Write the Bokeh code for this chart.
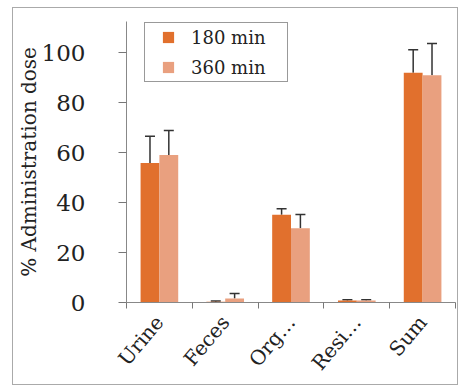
from math import pi
import numpy as np
from bokeh.plotting import figure
from bokeh.models import (ColumnDataSource, FixedTicker, Whisker, TeeHead,
                          Legend, LegendItem, Range1d)
from bokeh.embed import file_html
from bokeh.resources import INLINE

categories = ["Urine", "Feces", "Org…", "Resi…", "Sum"]
series = ["180 min", "360 min"]
v180 = [55.8, 0.3, 35.1, 0.8, 91.9]
e180 = [10.7, 0.3, 2.4, 0.3, 9.2]
v360 = [59.0, 1.6, 29.7, 0.8, 90.9]
e360 = [9.8, 2.0, 5.5, 0.3, 12.7]
y_ticks = [0, 20, 40, 60, 80, 100]

c180 = "#E1702D"
c360 = "#E9A07F"
FONT = "DejaVu Serif"

centers = np.arange(len(categories)) + 0.5
off = 0.143
bw = 0.286

p = figure(width=446, height=378, output_backend="svg", toolbar_location=None,
           x_range=Range1d(0, len(categories)), y_range=Range1d(0, 112.4),
           min_border_left=112, min_border_right=4, min_border_top=13,
           min_border_bottom=84,
           styles={"border": "1px solid #aaaaaa", "margin-left": "12px",
                   "margin-top": "7px"})
p.outline_line_color = None
p.xgrid.visible = False
p.ygrid.visible = False
p.background_fill_color = "white"
p.border_fill_color = "white"

s1 = ColumnDataSource(dict(x=centers - off, top=v180, hi=np.array(v180) + np.array(e180)))
s2 = ColumnDataSource(dict(x=centers + off, top=v360, hi=np.array(v360) + np.array(e360)))

p.vbar(x="x", top="top", width=bw, source=s1, fill_color=c180, line_color=None)
p.vbar(x="x", top="top", width=bw, source=s2, fill_color=c360, line_color=None)

for s in (s1, s2):
    w = Whisker(source=s, base="x", lower="top", upper="hi", dimension="height",
                line_color="#333333", line_width=1.5,
                upper_head=TeeHead(size=10, line_color="#333333", line_width=1.5),
                lower_head=None)
    p.add_layout(w)

# x axis: labels at category centres, minor ticks at category boundaries
xa = p.xaxis[0]
xa.ticker = FixedTicker(ticks=list(centers), minor_ticks=list(range(len(categories) + 1)))
xa.major_label_overrides = {float(c): lab for c, lab in zip(centers, categories)}
xa.major_tick_out = 0
xa.major_tick_in = 0
xa.minor_tick_out = 6
xa.minor_tick_in = 0
xa.minor_tick_line_color = "#777777"
xa.axis_line_color = "#888888"
xa.major_label_orientation = 0.87
xa.major_label_text_font = FONT
xa.major_label_text_font_size = "20px"
xa.major_label_text_color = "#222222"
xa.major_label_standoff = 10

ya = p.yaxis[0]
ya.ticker = FixedTicker(ticks=y_ticks, minor_ticks=[])
ya.major_tick_out = 8
ya.major_tick_in = 0
ya.major_tick_line_color = "#777777"
ya.axis_line_color = "#888888"
ya.major_label_text_font = FONT
ya.major_label_text_font_size = "23px"
ya.major_label_text_color = "#222222"
ya.major_label_standoff = 33
ya.axis_label = "% Administration dose"
ya.axis_label_text_font = FONT
ya.axis_label_text_font_size = "20px"
ya.axis_label_text_font_style = "normal"
ya.axis_label_text_color = "#222222"
ya.axis_label_standoff = -2

# legend: square markers (size-0 scatter on the bar tops, only shown in legend)
r1 = p.scatter(x="x", y="top", source=s1, marker="square", size=0,
               fill_color=c180, line_color=None)
r2 = p.scatter(x="x", y="top", source=s2, marker="square", size=0,
               fill_color=c360, line_color=None)
legend = Legend(items=[LegendItem(label=series[0], renderers=[r1], index=0),
                       LegendItem(label=series[1], renderers=[r2], index=0)],
                location=(18, 220), padding=0, margin=0, spacing=2,
                glyph_width=46, glyph_height=28, label_height=28,
                label_standoff=0, label_width=96,
                label_text_font=FONT, label_text_font_size="18px",
                label_text_color="#222222",
                border_line_color="#333333", border_line_width=1.3,
                background_fill_color="white", background_fill_alpha=1)
p.add_layout(legend, "center")

open("out.html", "w").write(file_html(p, INLINE))
